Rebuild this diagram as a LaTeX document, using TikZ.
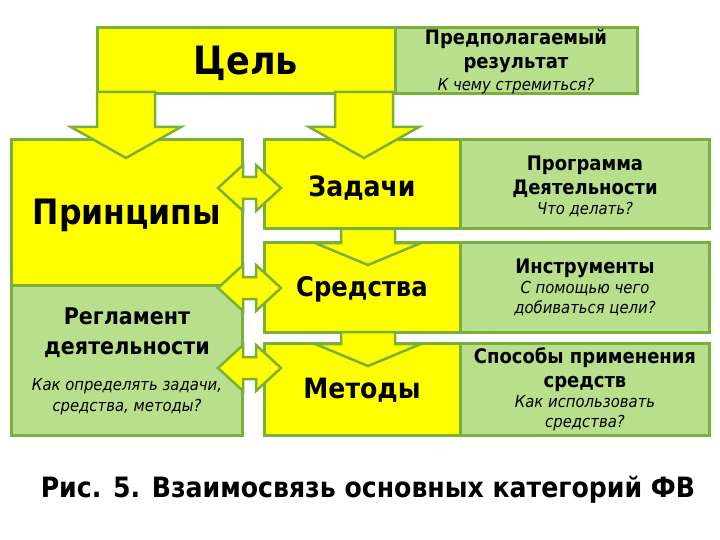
\documentclass[tikz,border=0pt]{standalone}
\usepackage{fontspec}
\setmainfont{DejaVu Sans Condensed}
\begin{document}
\begin{tikzpicture}[x=1pt,y=-1pt,
  yel/.style={fill=ybox,draw=gline,line width=3pt},
  grn/.style={fill=gbox,draw=gline,line width=3pt},
  arr/.style={fill=ybox,draw=gline,line width=2.5pt,line join=miter},
  lbl/.style={align=center,font=\bfseries,inner sep=0pt}]
\definecolor{ybox}{HTML}{FFFF00}
\definecolor{gbox}{HTML}{B8E08C}
\definecolor{gline}{HTML}{78B03A}
\fill[white] (0,0) rectangle (720,540);
\useasboundingbox (0,0) rectangle (720,540);
% top
\draw[yel] (97,28) rectangle (395,94);
\draw[grn] (395,28) rectangle (637,94);
% left
\draw[yel] (11,140) rectangle (242,285);
\draw[grn] (11,285) rectangle (242,435);
% middle
\draw[yel] (264,140) rectangle (460,229);
\draw[grn] (460,140) rectangle (709,229);
\draw[yel] (264,242) rectangle (460,332);
\draw[grn] (460,242) rectangle (709,332);
\draw[yel] (264,343) rectangle (460,435);
\draw[grn] (460,343) rectangle (709,435);
% down arrows
\newcommand{\darr}[6]{\draw[arr] (#1-#3,#4) -- (#1+#3,#4) -- (#1+#3,#5) -- (#1+#3+26,#5) -- (#1,#6) -- (#1-#3-26,#5) -- (#1-#3,#5) -- cycle;}
\darr{126}{0}{29}{92}{127}{158}
\darr{364}{0}{29}{92}{127}{158}
\darr{368}{0}{27}{229}{243}{265}
\darr{368}{0}{27}{332}{344}{366}
% double arrows
\newcommand{\harr}[1]{\draw[arr] (218,#1) -- (243,#1-23) -- (243,#1-11) -- (256,#1-11) -- (256,#1-23) -- (281,#1) -- (256,#1+23) -- (256,#1+11) -- (243,#1+11) -- (243,#1+23) -- cycle;}
\harr{188}\harr{288}\harr{368}
% texts
\node[lbl,font=\bfseries\fontsize{39}{40}\selectfont] (c) at (246,63) {Цель};
\node[lbl,font=\bfseries\fontsize{20}{24}\selectfont] (r) at (516,51) {Предполагаемый\\результат};
\node[lbl,font=\itshape\fontsize{16.5}{18}\selectfont] (rq) at (516,86) {К чему стремиться?};
\node[lbl,font=\bfseries\fontsize{35}{36}\selectfont] (p) at (127,215) {Принципы};
\node[lbl,font=\bfseries\fontsize{23}{30}\selectfont] (rg) at (127,333) {Регламент\\деятельности};
\node[lbl,font=\itshape\fontsize{16.5}{21}\selectfont] (rgq) at (127,397) {Как определять задачи,\\средства, методы?};
\node[lbl,font=\bfseries\fontsize{28}{30}\selectfont] (z) at (362,188) {Задачи};
\node[lbl,font=\bfseries\fontsize{27}{29}\selectfont] (s) at (362,289) {Средства};
\node[lbl,font=\bfseries\fontsize{28}{30}\selectfont] (m) at (362,390) {Методы};
\node[lbl,font=\bfseries\fontsize{20}{24}\selectfont] (pd) at (585,177) {Программа\\Деятельности};
\node[lbl,font=\itshape\fontsize{16.5}{18}\selectfont] (pdq) at (585,210) {Что делать?};
\node[lbl,font=\bfseries\fontsize{20}{22}\selectfont] (in) at (585,268) {Инструменты};
\node[lbl,font=\itshape\fontsize{16.5}{20}\selectfont] (inq) at (585,299) {С помощью чего\\добиваться цели?};
\node[lbl,font=\bfseries\fontsize{20}{24}\selectfont] (sp) at (585,370) {Способы применения\\средств};
\node[lbl,font=\itshape\fontsize{16.5}{20}\selectfont] (spq) at (585,413) {Как использовать\\средства?};
\node[lbl,font=\bfseries\fontsize{28}{30}\selectfont] (cap) at (368,490) {Рис. 5. Взаимосвязь основных категорий ФВ};
\end{tikzpicture}
\end{document}
